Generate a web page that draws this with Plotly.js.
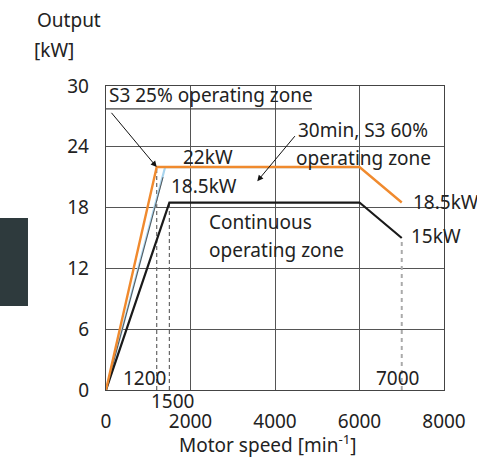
<!DOCTYPE html>
<html>
<head>
<meta charset="utf-8">
<script src="https://cdn.plot.ly/plotly-3.0.1.min.js"></script>
<style>html,body{margin:0;padding:0;background:#fff;}#chart{width:477px;height:461px;}</style>
</head>
<body>
<div id="chart"></div>
<script>
// Data
const speedS3_25 = [0, 1200, 6000, 7000];
const powerS3_25 = [0, 22, 22, 18.5];
const speedS3_60 = [0, 1400, 6000];
const powerS3_60 = [0, 22, 22];
const speedS3_60b = [0, 1350];
const powerS3_60b = [0, 21];
const speedCont = [0, 1500, 6000, 7000];
const powerCont = [0, 18.5, 18.5, 15];
const xTicks = [0, 2000, 4000, 6000, 8000];
const yTicks = [0, 6, 12, 18, 24, 30];

const F = "Noto Sans, Open Sans, sans-serif";
const TXT = 19;

const traces = [
  {x: [1200, 1200], y: [0, 22], mode: 'lines', line: {color: '#666', width: 1.2, dash: '4px,3px'}, hoverinfo: 'skip'},
  {x: [1500, 1500], y: [0, 18.5], mode: 'lines', line: {color: '#666', width: 1.2, dash: '4px,3px'}, hoverinfo: 'skip'},
  {x: [7000, 7000], y: [0, 15], mode: 'lines', line: {color: '#aaa', width: 2, dash: '4px,4px'}, hoverinfo: 'skip'},
  {x: speedS3_60, y: powerS3_60, mode: 'lines', line: {color: '#a8d4ee', width: 2.2}},
  {x: speedS3_60b, y: powerS3_60b, mode: 'lines', line: {color: '#555', width: 1}},
  {x: speedCont, y: powerCont, mode: 'lines', line: {color: '#1a1a1a', width: 2.2}},
  {x: speedS3_25, y: powerS3_25, mode: 'lines', line: {color: '#f08a2e', width: 2.4}}
];

function txt(t, x, y, extra) {
  return Object.assign({text: t, x: x, y: y, xref: 'x', yref: 'y', xanchor: 'left', yanchor: 'middle',
    showarrow: false, font: {family: F, size: TXT, color: '#222'}}, extra || {});
}
function ptxt(t, px, py, anchor) {
  return {text: t, xref: 'paper', yref: 'paper', x: (px - 106) / 338, y: (390 - py) / 304,
    xanchor: anchor || 'left', yanchor: 'middle', showarrow: false, font: {family: F, size: TXT, color: '#222'}};
}

const layout = {
  width: 477, height: 461,
  margin: {l: 106, r: 33, t: 86, b: 71},
  paper_bgcolor: '#fff', plot_bgcolor: '#fff',
  showlegend: false,
  font: {family: F, size: TXT, color: '#222'},
  xaxis: {range: [0, 8000], tickvals: xTicks, ticktext: xTicks.map(String), showgrid: true, gridcolor: '#555', gridwidth: 1,
    showline: true, linecolor: '#444', linewidth: 1.2, mirror: true, zeroline: false, ticks: '', ticklabelstandoff: 14,
    tickfont: {family: F, size: TXT, color: '#222'}, fixedrange: true},
  yaxis: {range: [0, 30], tickvals: yTicks, ticktext: yTicks.map(String), showgrid: true, gridcolor: '#555', gridwidth: 1,
    showline: true, linecolor: '#444', linewidth: 1.2, mirror: true, zeroline: false, ticks: '', ticklabelstandoff: 12,
    tickfont: {family: F, size: TXT, color: '#222'}, fixedrange: true},
  shapes: [
    {type: 'rect', xref: 'paper', yref: 'paper', x0: -0.3136, x1: -0.2308, y0: 0.276, y1: 0.566, fillcolor: '#2e3a3d', line: {width: 0}},
    {type: 'line', xref: 'x', yref: 'y', x0: 0, x1: 4875, y0: 27.75, y1: 27.75, line: {color: '#444', width: 1.2}}
  ],
  annotations: [
    ptxt('Output', 35, 20),
    ptxt('[kW]', 32, 50),
    ptxt('Motor speed [min<sup>-1</sup>]', 268, 444, 'center'),
    ptxt('1500', 149, 401),
    txt('S3 25% operating zone', 30, 29.1),
    txt('22kW', 1780, 23.0),
    txt('18.5kW', 1480, 20.1),
    txt('30min, S3 60%', 4500, 25.7),
    txt('operating zone', 4460, 22.9),
    txt('Continuous', 2390, 16.6),
    txt('operating zone', 2390, 13.8),
    txt('18.5kW', 7220, 18.6),
    txt('15kW', 7180, 15.2),
    txt('1200', 350, 1.2),
    txt('7000', 6340, 1.2),
    {text: '', x: 1200, y: 22, xref: 'x', yref: 'y', ax: 100, ay: 27.5, axref: 'x', ayref: 'y', showarrow: true, arrowhead: 2, arrowsize: 1.2, arrowwidth: 1, arrowcolor: '#111', standoff: 0},
    {text: '', x: 3580, y: 20.6, xref: 'x', yref: 'y', ax: 4500, ay: 25.2, axref: 'x', ayref: 'y', showarrow: true, arrowhead: 2, arrowsize: 1.2, arrowwidth: 1, arrowcolor: '#111', standoff: 0}
  ]
};

Plotly.newPlot('chart', traces, layout, {staticPlot: true, displayModeBar: false});
</script>
</body>
</html>
